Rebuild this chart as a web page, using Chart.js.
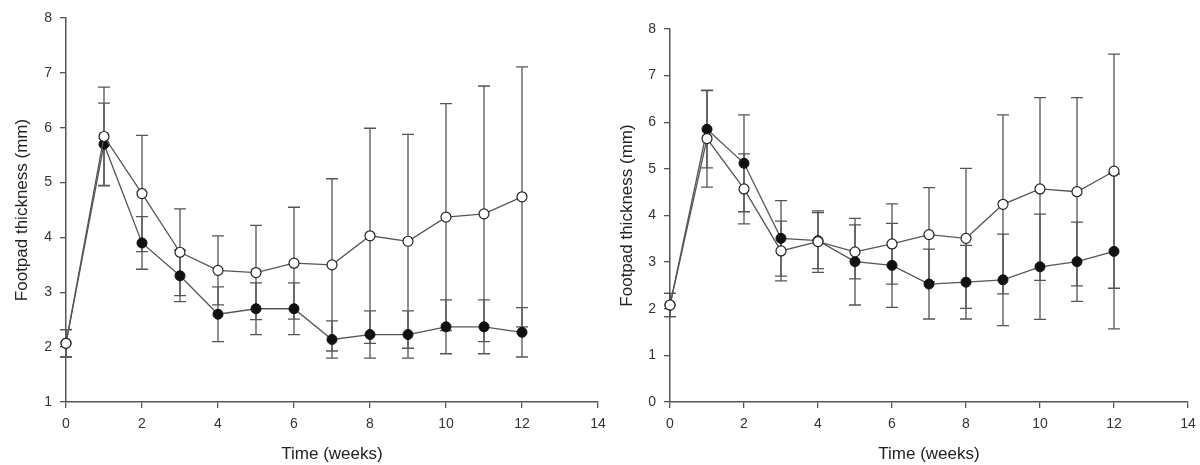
<!DOCTYPE html>
<html lang="en">
<head>
<meta charset="UTF-8">
<title>Footpad thickness</title>
<script src="https://cdn.jsdelivr.net/npm/chart.js"></script>
<style>
  body{ margin:0; background:#fff; }
  .wrap{ position:relative; width:1200px; height:465px; }
  canvas{ position:absolute; top:0; }
  #leftChart{ left:0; }
  #rightChart{ left:600px; }
</style>
</head>
<body>
<div class="wrap">
  <canvas id="leftChart" width="610" height="465"></canvas>
  <canvas id="rightChart" width="600" height="465"></canvas>
</div>

<script>
/* ==== data ==== */
const weeks = [0, 1, 2, 3, 4, 5, 6, 7, 8, 9, 10, 11, 12];

const leftOpenMean   = [2.07, 5.84, 4.80, 3.73, 3.40, 3.36, 3.53, 3.50, 4.03, 3.93, 4.37, 4.43, 4.74];
const leftOpenErr    = [0.25, 0.90, 1.06, 0.79, 0.63, 0.86, 1.02, 1.57, 1.96, 1.95, 2.07, 2.33, 2.37];
const leftFilledMean = [2.07, 5.70, 3.90, 3.30, 2.60, 2.70, 2.70, 2.14, 2.23, 2.23, 2.37, 2.37, 2.27];
const leftFilledErr  = [0.25, 0.75, 0.48, 0.47, 0.50, 0.47, 0.47, 0.34, 0.43, 0.43, 0.49, 0.49, 0.45];

const rightOpenMean   = [2.08, 5.65, 4.57, 3.24, 3.44, 3.22, 3.39, 3.59, 3.51, 4.24, 4.57, 4.51, 4.95];
const rightOpenErr    = [0.25, 1.04, 0.75, 0.64, 0.66, 0.58, 0.86, 1.01, 1.50, 1.92, 1.96, 2.02, 2.51];
const rightFilledMean = [2.08, 5.85, 5.12, 3.51, 3.46, 3.01, 2.93, 2.53, 2.57, 2.62, 2.90, 3.01, 3.23];
const rightFilledErr  = [0.25, 0.83, 1.04, 0.81, 0.60, 0.93, 0.90, 0.75, 0.79, 0.98, 1.13, 0.85, 1.66];

const xTitle = 'Time (weeks)';
const yTitle = 'Footpad thickness (mm)';

/* ==== helpers ==== */
const LINE = '#555';
const toPts = (xs, ys) => xs.map((x, i) => ({x, y: ys[i]}));

// draws vertical error bars with caps, under the markers
const errorBars = {
  id: 'errorBars',
  beforeDatasetsDraw(chart){
    const {ctx, scales:{x, y}} = chart;
    ctx.save();
    ctx.strokeStyle = LINE;
    ctx.lineWidth = 1.3;
    chart.data.datasets.forEach(ds => {
      ds.data.forEach((p, i) => {
        const e = ds.errors[i];
        const px = x.getPixelForValue(p.x);
        const top = y.getPixelForValue(p.y + e);
        const bot = y.getPixelForValue(p.y - e);
        ctx.beginPath();
        ctx.moveTo(px, top); ctx.lineTo(px, bot);
        ctx.moveTo(px - 6, top); ctx.lineTo(px + 6, top);
        ctx.moveTo(px - 6, bot); ctx.lineTo(px + 6, bot);
        ctx.stroke();
      });
    });
    ctx.restore();
  }
};

function makeChart(id, cfg){
  const family = 'Arial, "Liberation Sans", sans-serif';
  const tickFont = {family, size: 14};
  const titleFont = {family, size: 17};
  return new Chart(document.getElementById(id), {
    type: 'scatter',
    data: {
      datasets: [
        {data: toPts(weeks, cfg.openMean), errors: cfg.openErr, order: 0,
         showLine: true, borderColor: LINE, borderWidth: 1.3,
         pointBackgroundColor: '#fff', pointBorderColor: '#222', pointBorderWidth: 1.2,
         pointRadius: 5, clip: false},
        {data: toPts(weeks, cfg.filledMean), errors: cfg.filledErr, order: 1,
         showLine: true, borderColor: LINE, borderWidth: 1.3,
         pointBackgroundColor: '#111', pointBorderColor: '#111', pointBorderWidth: 1,
         pointRadius: 5, clip: false}
      ]
    },
    options: {
      responsive: false,
      animation: false,
      events: [],
      layout: {padding: {left: 0, right: cfg.padRight, top: cfg.padTop, bottom: 0}},
      plugins: {legend: {display: false}, tooltip: {enabled: false}},
      scales: {
        x: {
          type: 'linear', min: 0, max: 14,
          ticks: {stepSize: 2, color: '#333', font: tickFont, padding: 8, maxRotation: 0},
          grid: {drawOnChartArea: false, drawTicks: true, tickLength: 6, color: LINE, lineWidth: 1.3},
          border: {color: LINE, width: 1.5},
          title: {display: true, text: xTitle, color: '#222',
                  font: titleFont, padding: {top: 0, bottom: 0}},
          afterFit: s => { s.height = 63; s.paddingLeft = 0; s.paddingRight = 0; }
        },
        y: {
          type: 'linear', min: cfg.yMin, max: 8,
          ticks: {stepSize: 1, color: '#333', font: tickFont, padding: 8},
          grid: {drawOnChartArea: false, drawTicks: true, tickLength: 6, color: LINE, lineWidth: 1.3},
          border: {color: LINE, width: 1.5},
          title: {display: true, text: yTitle, color: '#222',
                  font: titleFont, padding: {top: cfg.yTitlePad, bottom: 0}},
          afterFit: s => { s.width = cfg.yWidth; s.paddingTop = 0; s.paddingBottom = 0; }
        }
      }
    },
    plugins: [errorBars]
  });
}

makeChart('leftChart', {
  openMean: leftOpenMean, openErr: leftOpenErr,
  filledMean: leftFilledMean, filledErr: leftFilledErr,
  yMin: 1, yWidth: 66, padRight: 12, padTop: 18, yTitlePad: 12
});

makeChart('rightChart', {
  openMean: rightOpenMean, openErr: rightOpenErr,
  filledMean: rightFilledMean, filledErr: rightFilledErr,
  yMin: 0, yWidth: 70, padRight: 12, padTop: 29, yTitlePad: 17
});
</script>
</body>
</html>
